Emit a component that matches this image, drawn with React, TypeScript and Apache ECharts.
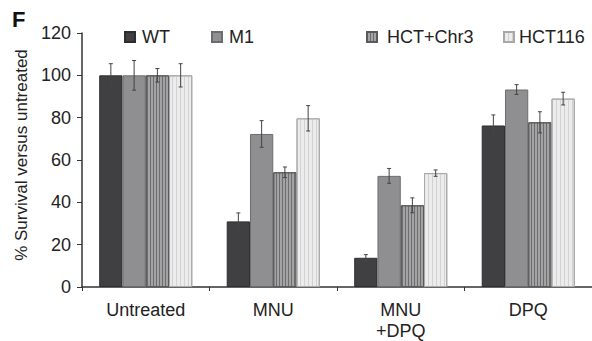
import React, { useEffect, useRef } from "react";
import * as echarts from "echarts";

const categories = ["Untreated", "MNU", "MNU\n+DPQ", "DPQ"];
const seriesNames = ["WT", "M1", "HCT+Chr3", "HCT116"];
const wtValues = [100, 31, 13.8, 76.3];
const m1Values = [100, 72.3, 52.5, 93.3];
const chr3Values = [100, 54.2, 38.6, 77.8];
const hct116Values = [100, 79.7, 53.8, 89];
const wtErrors = [5.5, 4, 1.5, 5];
const m1Errors = [7, 6.3, 3.5, 2.3];
const chr3Errors = [3.2, 2.5, 3.5, 5];
const hct116Errors = [5.5, 6, 1.5, 3];
const yTicks = [0, 20, 40, 60, 80, 100, 120];
const yAxisName = "% Survival versus untreated";

const allValues = [wtValues, m1Values, chr3Values, hct116Values];
const allErrors = [wtErrors, m1Errors, chr3Errors, hct116Errors];

const FONT = "Liberation Sans, Arial, Helvetica, sans-serif";
const CAT_GAP = 0.27;

export default function App() {
  const ref = useRef<HTMLDivElement>(null);
  useEffect(() => {
    if (!ref.current) return;
    const chart = echarts.init(ref.current, undefined, { renderer: "svg" });

    const fills = ["#404043", "#8f8f92", "#a3a3a5", "#ececec"];
    const borders = ["#2e2e30", "#6c6c6e", "#5a5a5c", "#a8a8a8"];

    const barSeries = seriesNames.map((name, i) => ({
      name,
      type: "bar",
      data: allValues[i],
      barGap: "0%",
      barCategoryGap: CAT_GAP * 100 + "%",
      itemStyle: {
        color: fills[i],
        borderColor: borders[i],
        borderWidth: 1,
        decal:
          i === 2
            ? {
                symbol: "rect",
                symbolSize: 1,
                color: "rgba(90,90,92,0.75)",
                dashArrayX: [1, 2],
                dashArrayY: [4, 0],
                rotation: 0,
              }
            : i === 3
            ? {
                symbol: "rect",
                symbolSize: 1,
                color: "rgba(200,200,200,0.7)",
                dashArrayX: [1, 3],
                dashArrayY: [4, 0],
                rotation: 0,
              }
            : "none",
      },
      emphasis: { disabled: true },
      z: 2,
    }));

    const errData: number[][] = [];
    allValues.forEach((vals, si) => {
      vals.forEach((v, ci) => {
        errData.push([ci, v - allErrors[si][ci], v + allErrors[si][ci], si]);
      });
    });

    const errSeries = {
      type: "custom",
      name: "err",
      data: errData,
      encode: { x: 0, y: [1, 2] },
      z: 5,
      renderItem: (params: any, api: any) => {
        const ci = api.value(0);
        const lo = api.value(1);
        const hi = api.value(2);
        const si = api.value(3);
        const band = api.size([1, 0])[0];
        const bw = (band * (1 - CAT_GAP)) / 4;
        const center = api.coord([ci, 0])[0];
        const x = center + (si - 1.5) * bw;
        const pLo = api.coord([ci, lo])[1];
        const pHi = api.coord([ci, hi])[1];
        const cap = 2;
        const style = { stroke: "#444", lineWidth: 1 };
        return {
          type: "group",
          children: [
            { type: "line", shape: { x1: x, y1: pLo, x2: x, y2: pHi }, style },
            { type: "line", shape: { x1: x - cap, y1: pHi, x2: x + cap, y2: pHi }, style },
            { type: "line", shape: { x1: x - cap, y1: pLo, x2: x + cap, y2: pLo }, style },
          ],
        };
      },
    };

    const legendText = (pad: number) => ({
      fontSize: 18,
      color: "#222",
      fontFamily: FONT,
      padding: [0, 0, 0, pad],
    });
    const legendBase = {
      icon: "rect",
      itemWidth: 10,
      itemHeight: 10,
      itemGap: 0,
      top: 28,
      padding: 0,
      selectedMode: false,
    };

    chart.setOption({
      animation: false,
      aria: { enabled: false, decal: { show: false } },
      textStyle: { fontFamily: FONT },
      title: {
        text: "F",
        left: 12,
        top: 8,
        padding: 0,
        textStyle: { fontSize: 22, fontWeight: "bold", color: "#111", fontFamily: FONT },
      },
      legend: [
        { ...legendBase, left: 124, data: ["WT"], textStyle: legendText(2) },
        { ...legendBase, left: 211, data: ["M1"], textStyle: legendText(2) },
        { ...legendBase, left: 366, data: ["HCT+Chr3"], textStyle: legendText(5) },
        { ...legendBase, left: 503, data: ["HCT116"], textStyle: legendText(0) },
      ],
      graphic: [
        {
          type: "text",
          x: 21,
          y: 155,
          rotation: Math.PI / 2,
          style: {
            text: yAxisName,
            fontSize: 17,
            fill: "#222",
            fontFamily: FONT,
            align: "center",
            verticalAlign: "middle",
          },
        },
      ],
      grid: { left: 82, top: 33, width: 518, height: 259, containLabel: false },
      xAxis: {
        type: "category",
        data: categories,
        axisLine: { lineStyle: { color: "#333", width: 1.5 } },
        axisTick: { show: true, length: 4, lineStyle: { color: "#333" } },
        axisLabel: {
          fontSize: 18,
          color: "#222",
          fontFamily: FONT,
          margin: 12,
          lineHeight: 21,
          interval: 0,
        },
      },
      yAxis: {
        type: "value",
        min: 0,
        max: 120,
        interval: 20,
        axisLine: { show: true, lineStyle: { color: "#333", width: 1.5 } },
        axisTick: { show: true, length: 5, lineStyle: { color: "#333" } },
        splitLine: { show: false },
        axisLabel: {
          fontSize: 18,
          color: "#222",
          fontFamily: FONT,
          margin: 11,
          formatter: (v: number) => (yTicks.includes(v) ? String(v) : ""),
        },
      },
      series: [...barSeries, errSeries],
    });

    return () => chart.dispose();
  }, []);

  return <div ref={ref} style={{ width: 592, height: 341, position: "absolute", left: 0, top: 0 }} />;
}
